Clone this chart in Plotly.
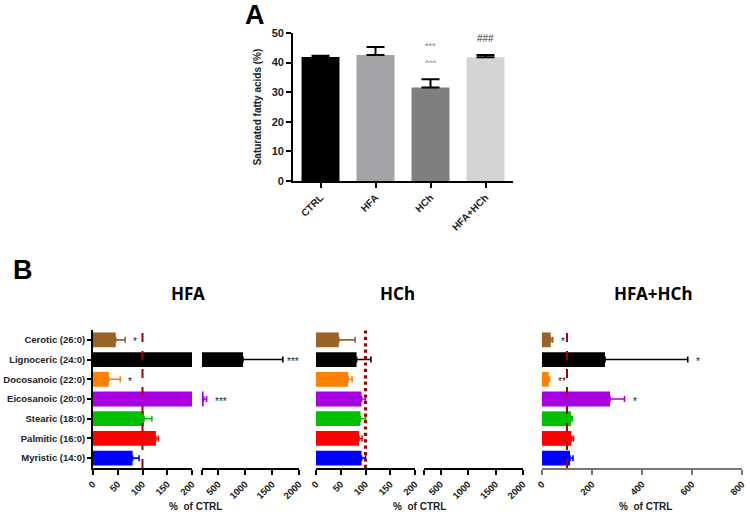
import plotly.graph_objects as go

# ---------------- Data ----------------
groups_a = ["CTRL", "HFA", "HCh", "HFA+HCh"]
sfa_mean = [41.9, 42.6, 31.6, 41.8]
sfa_err = [0.4, 2.7, 2.8, 0.8]
colors_a = ["#000000", "#a3a3a7", "#7f7f7f", "#d4d4d4"]
sig_a_star = ["", "", "***", ""]
sig_a_hat = ["", "", "^^^", ""]
sig_a_hash = ["", "", "", "###"]

acids = ["Myristic (14:0)", "Palmitic (16:0)", "Stearic (18:0)", "Eicosanoic (20:0)",
         "Docosanoic (22:0)", "Lignoceric (24:0)", "Cerotic (26:0)"]
acid_colors = ["#0000ff", "#ff0000", "#00c000", "#a800e0", "#ff8000", "#000000", "#9a6428"]

hfa_mean = [80, 127, 103, 230, 32, 960, 46]
hfa_err = [13, 5, 16, 55, 23, 740, 19]
hfa_sig = ["", "", "", "***", "*", "***", "*"]

hch_mean = [92, 87, 90, 92, 65, 82, 46]
hch_err = [8, 6, 10, 8, 8, 29, 33]

combo_mean = [112, 118, 116, 272, 27, 252, 35]
combo_err = [12, 8, 6, 58, 3, 331, 8]
combo_sig = ["", "", "", "*", "**", "*", "*"]

W, H = 750, 516
def px(x):
    return x / W
def py(y):
    return 1 - y / H

FONT = "Liberation Sans, Arial, sans-serif"
fig = go.Figure()

# ---------------- Panel A ----------------
fig.add_trace(go.Bar(
    x=groups_a, y=sfa_mean, marker=dict(color=colors_a, line=dict(width=0)),
    width=0.69,
    error_y=dict(type="data", array=sfa_err, arrayminus=[0] * 4, symmetric=False,
                 color="#000000", thickness=2, width=9),
    xaxis="x", yaxis="y", showlegend=False))

# ---------------- Panel B ----------------
def add_panel(means, errs, xa, ya):
    for i, cat in enumerate(acids):
        fig.add_trace(go.Bar(
            y=[cat], x=[means[i]], orientation="h", width=0.75,
            marker=dict(color=acid_colors[i], line=dict(width=0)),
            error_x=dict(type="data", array=[errs[i]], arrayminus=[0], symmetric=False,
                         color=acid_colors[i], thickness=1.6, width=3),
            xaxis=xa, yaxis=ya, showlegend=False))

add_panel(hfa_mean, hfa_err, "x2", "y2")
add_panel(hfa_mean, hfa_err, "x3", "y2")
add_panel(hch_mean, hch_err, "x4", "y3")
add_panel(hch_mean, hch_err, "x5", "y3")
add_panel(combo_mean, combo_err, "x6", "y4")

tickfont = dict(family=FONT, size=9.5, color="#222222", weight="bold")
axis_common = dict(showgrid=False, zeroline=False, showline=True, linecolor="#000000",
                   linewidth=1.8, ticks="outside", ticklen=5, tickwidth=1.5,
                   tickcolor="#000000", tickfont=tickfont, automargin=False,
                   ticklabeloverflow="allow")

yB = [py(468), py(330)]

fig.update_layout(
    width=W, height=H, margin=dict(l=0, r=0, t=0, b=0, autoexpand=False),
    paper_bgcolor="white", plot_bgcolor="white", barmode="overlay",
    xaxis=dict(domain=[px(293), px(513)], anchor="y", tickangle=-45,
               categoryorder="array", categoryarray=groups_a,
               **{**axis_common, "tickfont": dict(family=FONT, size=10, color="#222222", weight="bold")}),
    yaxis=dict(domain=[py(181), py(33)], anchor="x", range=[0, 50],
               tickvals=[0, 10, 20, 30, 40, 50],
               title=dict(text="Saturated fatty acids (%)", standoff=8,
                          font=dict(family=FONT, size=10, color="#222222", weight="bold")),
               **{**axis_common, "tickfont": dict(family=FONT, size=11, color="#222222", weight="bold")}),
    xaxis2=dict(domain=[px(93), px(192)], anchor="y2", range=[0, 200],
                tickvals=[0, 50, 100, 150, 200], tickangle=-45, **axis_common),
    xaxis3=dict(domain=[px(202), px(299)], anchor="y2", range=[200, 2000],
                tickvals=[200, 500, 1000, 1500, 2000],
                ticktext=["", "500", "1000", "1500", "2000"], tickangle=-45, **axis_common),
    yaxis2=dict(domain=yB, anchor="x2", range=[-0.5, 6.5], categoryorder="array",
                categoryarray=acids,
                **{**axis_common, "tickfont": dict(family=FONT, size=9.5, color="#222222", weight="bold"),
                   "ticklen": 4}),
    xaxis4=dict(domain=[px(316), px(415)], anchor="y3", range=[0, 200],
                tickvals=[0, 50, 100, 150, 200], tickangle=-45, **axis_common),
    xaxis5=dict(domain=[px(424), px(523)], anchor="y3", range=[200, 2000],
                tickvals=[200, 500, 1000, 1500, 2000],
                ticktext=["", "500", "1000", "1500", "2000"], tickangle=-45, **axis_common),
    yaxis3=dict(domain=yB, anchor="x4", range=[-0.5, 6.5], categoryorder="array",
                categoryarray=acids, visible=False),
    xaxis6=dict(domain=[px(542), px(742)], anchor="y4", range=[0, 800],
                tickvals=[0, 200, 400, 600, 800], tickangle=-45,
                **{**axis_common, "linecolor": "#777777", "tickcolor": "#777777"}),
    yaxis4=dict(domain=yB, anchor="x6", range=[-0.5, 6.5], categoryorder="array",
                categoryarray=acids, visible=False),
)

# Reference lines at 100 %
shapes = [
    dict(type="line", xref="x2", yref="paper", x0=100, x1=100, y0=yB[0], y1=yB[1],
         line=dict(color="#aa0000", width=2, dash="dash")),
    dict(type="line", xref="x4", yref="paper", x0=100, x1=100, y0=yB[0], y1=yB[1],
         line=dict(color="#aa0000", width=3.2, dash="dot")),
    dict(type="line", xref="x6", yref="paper", x0=100, x1=100, y0=yB[0], y1=yB[1],
         line=dict(color="#aa0000", width=2, dash="dash")),
]
fig.update_layout(shapes=shapes)

ann = []
def paper_text(text, x, y, size, family=FONT, color="#000"):
    ann.append(dict(text=text, x=px(x), y=py(y), xref="paper", yref="paper",
                    xanchor="center", yanchor="middle", showarrow=False,
                    font=dict(family=family, size=size, color=color)))

# Panel letters
paper_text("<b>A</b>", 255, 15, 27)
paper_text("<b>B</b>", 23, 270, 27)
# Panel B titles
for t, xc in [("HFA", 188), ("HCh", 398), ("HFA+HCh", 653)]:
    paper_text("<b>" + t + "</b>", xc, 293, 17, family="Noto Sans, sans-serif")
# x titles
for xc in [196, 419, 645]:
    paper_text("<b>%  of CTRL</b>", xc, 506, 10, color="#222")

# Panel A significance
for i, g in enumerate(groups_a):
    top = sfa_mean[i] + sfa_err[i]
    if sig_a_star[i]:
        ann.append(dict(text=sig_a_star[i], x=g, y=top + 11.2, xref="x", yref="y",
                        yanchor="middle", showarrow=False,
                        font=dict(family=FONT, size=9, color="#888888")))
    if sig_a_hat[i]:
        ann.append(dict(text=sig_a_hat[i], x=g, y=top + 5.5, xref="x", yref="y",
                        yanchor="middle", showarrow=False,
                        font=dict(family=FONT, size=8, color="#555555")))
    if sig_a_hash[i]:
        ann.append(dict(text=sig_a_hash[i], x=g, y=top + 5.4, xref="x", yref="y",
                        yanchor="middle", showarrow=False,
                        font=dict(family=FONT, size=10, color="#333333")))

# Panel B significance
def sig_ann(means, errs, sigs, xa, ya, seg_split=None):
    for i, cat in enumerate(acids):
        if not sigs[i]:
            continue
        end = means[i] + errs[i]
        xref = xa
        if seg_split and means[i] > 200:
            xref = seg_split
        ann.append(dict(text=sigs[i], x=end, y=cat, xref=xref, yref=ya, xanchor="left",
                        yanchor="middle", xshift=6 if means[i] < 500 else 2,
                        yshift=-2, showarrow=False,
                        font=dict(family=FONT, size=10, color="#222222")))

sig_ann(hfa_mean, hfa_err, hfa_sig, "x2", "y2", seg_split="x3")
sig_ann(combo_mean, combo_err, combo_sig, "x6", "y4")

fig.update_layout(annotations=ann)
fig.write_html("out.html", config={"displayModeBar": False},
               post_script="document.body.style.margin='0px';document.body.style.padding='0px';")
